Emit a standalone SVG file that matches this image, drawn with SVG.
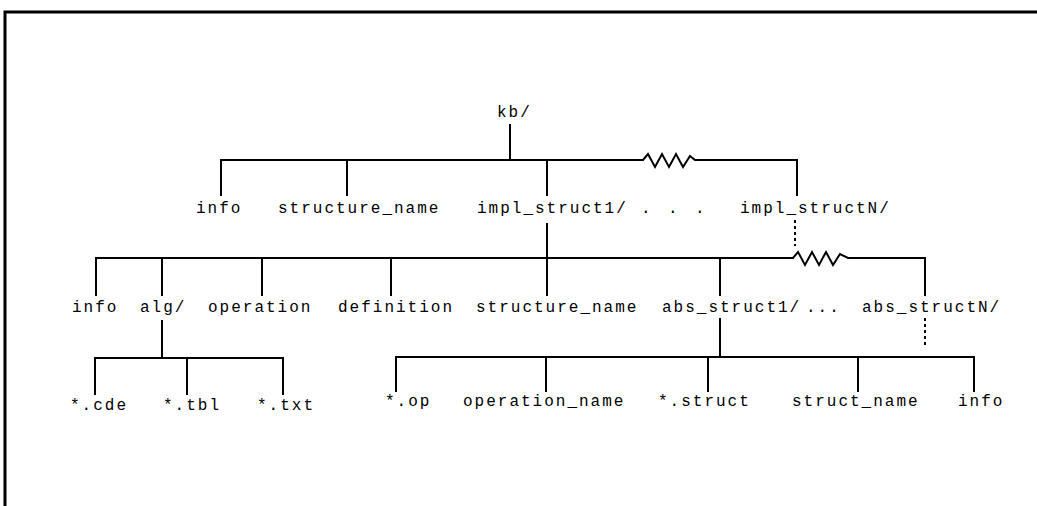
<svg xmlns="http://www.w3.org/2000/svg" width="1037" height="506" viewBox="0 0 1037 506">
  <style>
    .frame { fill: none; stroke: #000; stroke-width: 3; }
    .ln { fill: none; stroke: #000; stroke-width: 2; stroke-linejoin: miter; }
    .dot { fill: none; stroke: #000; stroke-width: 2; stroke-dasharray: 3 3; }
    text { font-family: "Liberation Mono", "DejaVu Sans Mono", monospace; font-size: 16px; letter-spacing: 2px; fill: #000; }
    .wide { letter-spacing: 3.9px; }
  </style>
  <rect width="1037" height="506" fill="#fff"/>
  <!-- page border (top and left edges only) -->
  <path class="frame" d="M5,506 V12 H1037"/>

  <g id="connectors">
    <!-- kb/ level -->
    <path class="ln" d="M510,124 V160"/>
    <path class="ln" d="M221,196 V160 H643 L648,154 L655,167 L662,154 L669,167 L676,154 L683,167 L690,156 L695,160 H797 V196"/>
    <path class="ln" d="M347,160 V196"/>
    <path class="ln" d="M547,160 V196"/>
    <!-- impl_struct1/ level -->
    <path class="ln" d="M547,223 V258"/>
    <path class="dot" d="M795,220 V246"/>
    <path class="ln" d="M96,296 V258 H793 L798,252 L805,265 L812,252 L819,265 L826,252 L833,265 L840,254 L848,258 H925 V296"/>
    <path class="ln" d="M162,258 V296"/>
    <path class="ln" d="M262,258 V296"/>
    <path class="ln" d="M391,258 V296"/>
    <path class="ln" d="M547,258 V296"/>
    <path class="ln" d="M720,258 V296"/>
    <!-- alg/ level -->
    <path class="ln" d="M162,320 V358"/>
    <path class="ln" d="M95,395 V358 H283 V395"/>
    <path class="ln" d="M187,358 V395"/>
    <!-- abs_struct1/ level -->
    <path class="ln" d="M720,318 V357"/>
    <path class="dot" d="M925,318 V346"/>
    <path class="ln" d="M396,392 V357 H974 V392"/>
    <path class="ln" d="M546,357 V392"/>
    <path class="ln" d="M708,357 V392"/>
    <path class="ln" d="M858,357 V392"/>
  </g>

  <g id="kb"><text x="497" y="117">kb/</text></g>

  <g id="l1-info"><text x="196" y="213">info</text></g>
  <g id="l1-structure_name"><text x="278" y="213">structure_name</text></g>
  <g id="l1-impl_struct1"><text x="477" y="213">impl_struct1/</text></g>
  <g id="l1-ellipsis"><text class="wide" x="641" y="213">. . .</text></g>
  <g id="l1-impl_structN"><text x="740" y="213">impl_structN/</text></g>

  <g id="l2-info"><text x="72" y="312">info</text></g>
  <g id="l2-alg"><text x="140" y="312">alg/</text></g>
  <g id="l2-operation"><text x="208" y="312">operation</text></g>
  <g id="l2-definition"><text x="338" y="312">definition</text></g>
  <g id="l2-structure_name"><text x="476" y="312">structure_name</text></g>
  <g id="l2-abs_struct1"><text x="662" y="312">abs_struct1/</text></g>
  <g id="l2-ellipsis"><text x="806" y="312">...</text></g>
  <g id="l2-abs_structN"><text x="862" y="312">abs_structN/</text></g>

  <g id="l3-cde"><text x="70" y="410">*.cde</text></g>
  <g id="l3-tbl"><text x="163" y="410">*.tbl</text></g>
  <g id="l3-txt"><text x="257" y="410">*.txt</text></g>

  <g id="l3-op"><text x="385" y="406">*.op</text></g>
  <g id="l3-operation_name"><text x="463" y="406">operation_name</text></g>
  <g id="l3-struct"><text x="658" y="406">*.struct</text></g>
  <g id="l3-struct_name"><text x="792" y="406">struct_name</text></g>
  <g id="l3-info"><text x="958" y="406">info</text></g>
</svg>
